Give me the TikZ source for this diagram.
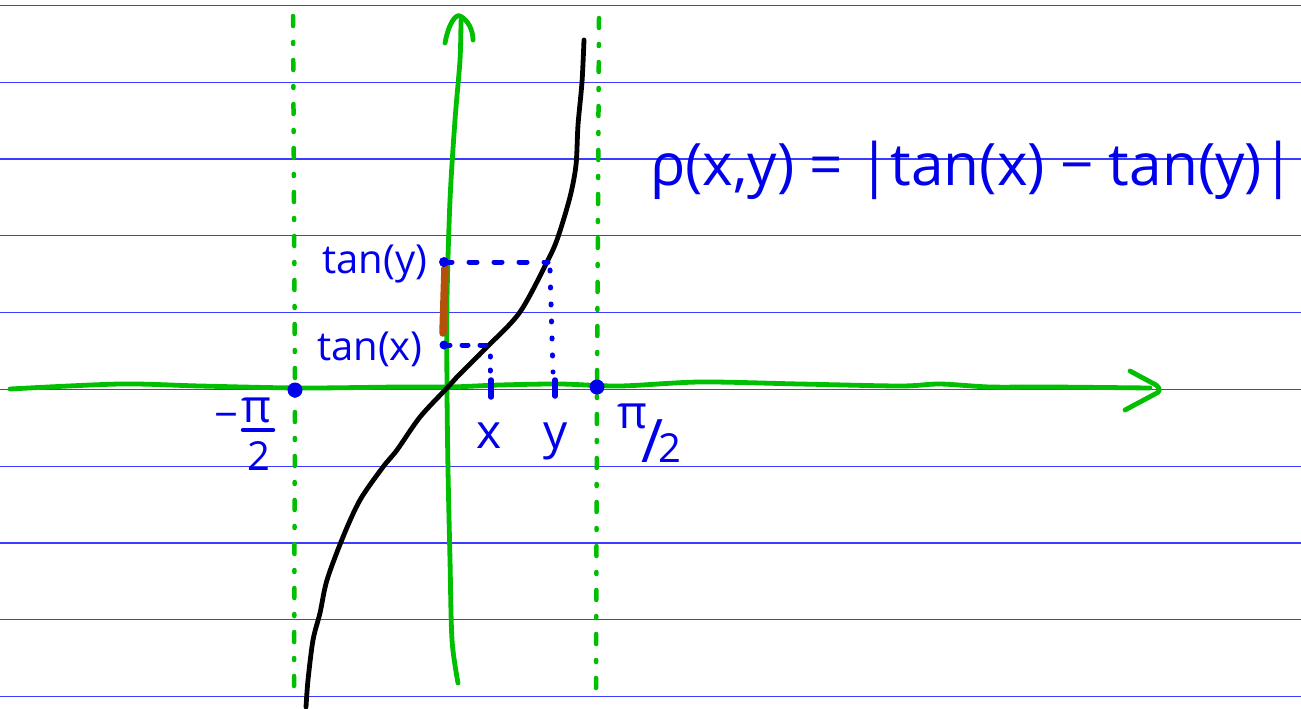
\documentclass[tikz,border=0pt]{standalone}
\usepackage{fontspec}
\usepackage{graphicx}
\setmainfont{Open Sans}
\definecolor{pen}{RGB}{0,0,235}
\definecolor{grn}{RGB}{0,190,0}
\definecolor{rulec}{RGB}{60,60,255}
\definecolor{brn}{RGB}{180,80,10}
\tikzset{
  rulel/.style={rulec, line width=1.3pt},
  gpen/.style={grn, line width=4.8pt, line cap=round, line join=round},
  gdash/.style={grn, line width=4.5pt, line cap=round, dash pattern=on 10pt off 16pt on 2pt off 16pt},
  bpen/.style={pen, line width=5pt, line cap=round},
  lab/.style={text=pen, inner sep=0pt, anchor=base, font=\fontsize{40}{40}\selectfont},
  big/.style={text=pen, inner sep=0pt, anchor=base, font=\fontsize{58.5}{58.5}\selectfont},
  axlab/.style={text=pen, inner sep=0pt, anchor=base, font=\fontsize{48}{48}\selectfont},
}
\begin{document}
\begin{tikzpicture}[x=1pt,y=-1pt]
\useasboundingbox (0,0) rectangle (1301,709);
\fill[white] (0,0) rectangle (1301,709);
% ruled lines
\foreach \yy in {5.5,82.3,159,235.8,312.6,389.4,466.2,543,619.8,696.6}
  \draw[rulel] (0,\yy) -- (1301,\yy);
% dashed asymptotes
\draw[gdash] (293,16) -- (295,390) -- (294,690);
\draw[gdash] (599,18) -- (597,388) -- (596,690);
% x axis
\draw[gpen] plot[smooth] coordinates {(10,389) (120,384) (200,386) (300,388) (400,387) (450,387) (500,385) (560,384) (620,386) (700,382) (800,384) (900,386) (940,384) (990,387) (1050,387) (1150,388)};
\draw[gpen] (1130,371) -- (1156,385) .. controls (1161,389) and (1160,392) .. (1155,394) -- (1125,410);
% y axis
\draw[gpen] plot[smooth] coordinates {(458,683) (452,640) (450,560) (448,470) (447,390) (447,300) (450,200) (455,120) (460,60) (461,20)};
\draw[gpen] (445,43) .. controls (449,22) and (456,14) .. (460,16) .. controls (468,20) and (473,30) .. (473,40);
% tangent curve
\draw[black, line width=4.8pt, line cap=round, line join=round] plot[smooth, tension=0.5] coordinates {(584,40) (582,82) (578,125) (576,165) (570,197) (558,237) (548,260) (520,312) (487,347) (457,377) (447,388) (420,417) (397,450) (383,467) (360,500) (343,537) (327,580) (320,613) (313,640) (308,680) (306,707)};
% brown segment
\draw[brn, line width=7.5pt, line cap=round] (445,268) -- (443,333);
% helper lines
\coordinate (ty0) at (444,262);
\coordinate (ty1) at (548,262);
\coordinate (tx0) at (444,345);
\coordinate (tx1) at (488,345);
\fill[pen] (ty0) circle (5);
\fill[pen] (tx0) circle (4.5);
\draw[bpen, dash pattern=on 8pt off 17pt] (ty0) -- (ty1);
\draw[bpen, dash pattern=on 1pt off 16pt] (550,270) -- (553,372);
\draw[bpen, dash pattern=on 6pt off 12pt] (tx0) -- (tx1);
\draw[bpen, dash pattern=on 1pt off 13pt] (490,356) -- (490,372);
\draw[pen, line width=5.5pt, line cap=round] (491,380) -- (491,397);
\draw[pen, line width=5.5pt, line cap=round] (555,380) -- (555,396);
% dots
\fill[pen] (295,390) circle (7.5);
\fill[pen] (597,387) circle (7.5);
% labels
\node[lab] (lty) at (375,273) {tan(y)};
\node[lab] (ltx) at (370,360) {tan(x)};
\node[axlab] (lx) at (489,448) {x};
\node[axlab] (ly) at (556,448) {y};
\node[text=pen, inner sep=0pt, font=\fontsize{42}{42}\selectfont] (lm) at (227,421) {−};
\node[text=pen, inner sep=0pt, font=\fontsize{46}{46}\selectfont] (lp) at (256,410) {π};
\draw[pen, line width=4.5pt, line cap=round] (243,430) -- (273,430);
\node[text=pen, inner sep=0pt, font=\fontsize{40}{40}\selectfont] (l2) at (259,456) {2};
\node[text=pen, inner sep=0pt, anchor=base west] (rpi) at (617,462) {{\fontsize{46}{46}\selectfont\raisebox{34pt}{π}}\kern-6pt{\fontsize{60}{60}\selectfont/}\kern-5pt{\fontsize{40}{40}\selectfont 2}};
\node[big, anchor=base west] (f) at (650,185) {ρ(x,y) = |tan(x) − tan(y)|};
\end{tikzpicture}
\end{document}
